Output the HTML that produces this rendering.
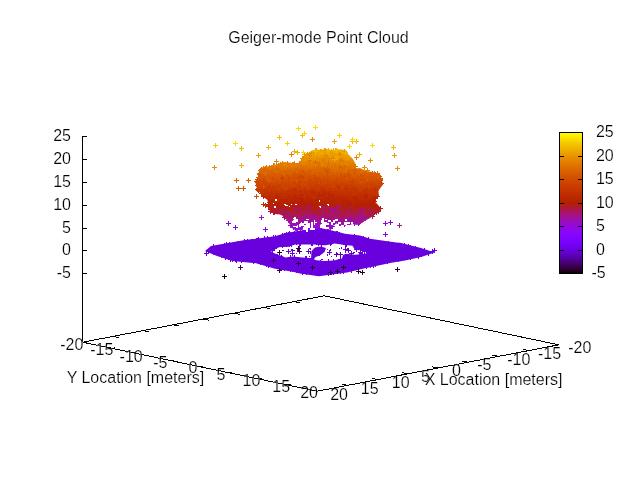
<!DOCTYPE html><html><head><meta charset="utf-8"><style>html,body{margin:0;padding:0;background:#fff;overflow:hidden}svg{display:block;will-change:transform}text{font-family:"Liberation Sans",Arial,sans-serif;font-size:16px;fill:#000;stroke:#fff;stroke-width:0.2px}</style></head><body>
<svg width="640" height="480" viewBox="0 0 640 480">
<rect width="640" height="480" fill="#fff"/>
<defs><linearGradient id="cb" x1="0" y1="0" x2="0" y2="1"><stop offset="0.0000" stop-color="#ffff00"/><stop offset="0.0167" stop-color="#fdf200"/><stop offset="0.0333" stop-color="#fbe600"/><stop offset="0.0500" stop-color="#f9db00"/><stop offset="0.0667" stop-color="#f6cf00"/><stop offset="0.0833" stop-color="#f4c400"/><stop offset="0.1000" stop-color="#f2ba00"/><stop offset="0.1167" stop-color="#f0b000"/><stop offset="0.1333" stop-color="#eda600"/><stop offset="0.1500" stop-color="#eb9d00"/><stop offset="0.1667" stop-color="#e99400"/><stop offset="0.1833" stop-color="#e68b00"/><stop offset="0.2000" stop-color="#e48300"/><stop offset="0.2167" stop-color="#e27b00"/><stop offset="0.2333" stop-color="#df7300"/><stop offset="0.2500" stop-color="#dd6c00"/><stop offset="0.2667" stop-color="#da6500"/><stop offset="0.2833" stop-color="#d85e00"/><stop offset="0.3000" stop-color="#d55700"/><stop offset="0.3167" stop-color="#d35100"/><stop offset="0.3333" stop-color="#d04c00"/><stop offset="0.3500" stop-color="#ce4600"/><stop offset="0.3667" stop-color="#cb4100"/><stop offset="0.3833" stop-color="#c83c00"/><stop offset="0.4000" stop-color="#c63700"/><stop offset="0.4167" stop-color="#c33300"/><stop offset="0.4333" stop-color="#c02e00"/><stop offset="0.4500" stop-color="#bd2a00"/><stop offset="0.4667" stop-color="#ba2700"/><stop offset="0.4833" stop-color="#b72300"/><stop offset="0.5000" stop-color="#b42000"/><stop offset="0.5167" stop-color="#b11d1b"/><stop offset="0.5333" stop-color="#ae1a35"/><stop offset="0.5500" stop-color="#ab174f"/><stop offset="0.5667" stop-color="#a81568"/><stop offset="0.5833" stop-color="#a5127f"/><stop offset="0.6000" stop-color="#a11096"/><stop offset="0.6167" stop-color="#9e0eab"/><stop offset="0.6333" stop-color="#9a0dbe"/><stop offset="0.6500" stop-color="#970bce"/><stop offset="0.6667" stop-color="#9309dd"/><stop offset="0.6833" stop-color="#8f08e9"/><stop offset="0.7000" stop-color="#8c07f3"/><stop offset="0.7167" stop-color="#8806f9"/><stop offset="0.7333" stop-color="#8405fe"/><stop offset="0.7500" stop-color="#8004ff"/><stop offset="0.7667" stop-color="#7b03fe"/><stop offset="0.7833" stop-color="#7703f9"/><stop offset="0.8000" stop-color="#7202f3"/><stop offset="0.8167" stop-color="#6d02e9"/><stop offset="0.8333" stop-color="#6801dd"/><stop offset="0.8500" stop-color="#6301ce"/><stop offset="0.8667" stop-color="#5d01be"/><stop offset="0.8833" stop-color="#5700ab"/><stop offset="0.9000" stop-color="#510096"/><stop offset="0.9167" stop-color="#4a007f"/><stop offset="0.9333" stop-color="#420068"/><stop offset="0.9500" stop-color="#39004f"/><stop offset="0.9667" stop-color="#2f0035"/><stop offset="0.9833" stop-color="#21001b"/><stop offset="1.0000" stop-color="#000000"/></linearGradient>
<linearGradient id="cg" gradientUnits="userSpaceOnUse" x1="0" y1="146" x2="0" y2="236"><stop offset="0.000" stop-color="#f5c800"/><stop offset="0.022" stop-color="#f3be00"/><stop offset="0.044" stop-color="#f1b500"/><stop offset="0.067" stop-color="#efac00"/><stop offset="0.089" stop-color="#eda400"/><stop offset="0.111" stop-color="#eb9c00"/><stop offset="0.133" stop-color="#e99400"/><stop offset="0.156" stop-color="#e78c00"/><stop offset="0.178" stop-color="#e58500"/><stop offset="0.200" stop-color="#e37e00"/><stop offset="0.222" stop-color="#e17700"/><stop offset="0.244" stop-color="#de7000"/><stop offset="0.267" stop-color="#dc6a00"/><stop offset="0.289" stop-color="#da6400"/><stop offset="0.311" stop-color="#d85e00"/><stop offset="0.333" stop-color="#d65800"/><stop offset="0.356" stop-color="#d35300"/><stop offset="0.378" stop-color="#d14e00"/><stop offset="0.400" stop-color="#cf4900"/><stop offset="0.422" stop-color="#cd4400"/><stop offset="0.444" stop-color="#ca4000"/><stop offset="0.467" stop-color="#c83b00"/><stop offset="0.489" stop-color="#c63700"/><stop offset="0.511" stop-color="#c33300"/><stop offset="0.533" stop-color="#c12f00"/><stop offset="0.556" stop-color="#be2c00"/><stop offset="0.578" stop-color="#bc2800"/><stop offset="0.600" stop-color="#b92500"/><stop offset="0.622" stop-color="#b72300"/><stop offset="0.644" stop-color="#b52100"/><stop offset="0.667" stop-color="#b41f06"/><stop offset="0.689" stop-color="#b21e13"/><stop offset="0.711" stop-color="#b11c20"/><stop offset="0.733" stop-color="#ae1a33"/><stop offset="0.756" stop-color="#ac1846"/><stop offset="0.778" stop-color="#aa165b"/><stop offset="0.800" stop-color="#a61472"/><stop offset="0.822" stop-color="#a31289"/><stop offset="0.844" stop-color="#a0109c"/><stop offset="0.867" stop-color="#9d0eae"/><stop offset="0.889" stop-color="#9a0cbf"/><stop offset="0.911" stop-color="#970bcf"/><stop offset="0.933" stop-color="#9309dd"/><stop offset="0.956" stop-color="#8e08ec"/><stop offset="0.978" stop-color="#8906f7"/><stop offset="1.000" stop-color="#8405fe"/></linearGradient>
</defs>
<polygon fill="#6801dd" points="205.0,251.0 211.0,246.0 245.0,240.0 275.0,236.3 285.6,233.0 301.0,230.6 312.5,228.1 320.0,228.0 330.0,230.0 345.0,233.7 360.0,235.5 370.0,238.7 396.0,242.5 400.0,242.7 421.0,248.0 434.6,252.6 421.0,257.0 405.0,260.5 390.0,263.0 375.0,266.3 365.0,268.3 347.0,272.5 318.7,276.2 300.0,273.5 294.0,272.0 275.0,268.7 256.0,263.3 232.5,261.0 217.0,256.0 205.0,251.0"/>
<path fill="none" stroke="#6801dd" d="M204 253.5h5M206.5 251v5M206 251.5h5M208.5 249v5M208 249.5h5M210.5 247v5M211 246.5h5M213.5 244v5M218 247.5h5M220.5 245v5M222 245.5h5M224.5 243v5M224 244.5h5M226.5 242v5M227 244.5h5M229.5 242v5M235 243.5h5M237.5 241v5M238 243.5h5M240.5 241v5M242 241.5h5M244.5 239v5M245 241.5h5M247.5 239v5M249 241.5h5M251.5 239v5M250 241.5h5M252.5 239v5M254 240.5h5M256.5 238v5M255 240.5h5M257.5 238v5M256 239.5h5M258.5 237v5M262 238.5h5M264.5 236v5M265 238.5h5M267.5 236v5M268 239.5h5M270.5 237v5M271 237.5h5M273.5 235v5M273 237.5h5M275.5 235v5M280 235.5h5M282.5 233v5M282 235.5h5M284.5 233v5M284 234.5h5M286.5 232v5M286 234.5h5M288.5 232v5M287 233.5h5M289.5 231v5M292 233.5h5M294.5 231v5M295 233.5h5M297.5 231v5M301 232.5h5M303.5 230v5M305 231.5h5M307.5 229v5M311 230.5h5M313.5 228v5M314 229.5h5M316.5 227v5M319 229.5h5M321.5 227v5M325 231.5h5M327.5 229v5M327 232.5h5M329.5 230v5M334 233.5h5M336.5 231v5M335 233.5h5M337.5 231v5M337 234.5h5M339.5 232v5M342 236.5h5M344.5 234v5M352 236.5h5M354.5 234v5M361 238.5h5M363.5 236v5M366 239.5h5M368.5 237v5M382 243.5h5M384.5 241v5M386 243.5h5M388.5 241v5M391 244.5h5M393.5 242v5M394 245.5h5M396.5 243v5M399 245.5h5M401.5 243v5M402 245.5h5M404.5 243v5M406 246.5h5M408.5 244v5M408 247.5h5M410.5 245v5M413 248.5h5M415.5 246v5M417 250.5h5M419.5 248v5M422 250.5h5M424.5 248v5M426 253.5h5M428.5 251v5M432 250.5h5M434.5 248v5M430 251.5h5M432.5 249v5M421 253.5h5M423.5 251v5M419 254.5h5M421.5 252v5M416 256.5h5M418.5 254v5M411 255.5h5M413.5 253v5M408 257.5h5M410.5 255v5M407 256.5h5M409.5 254v5M404 257.5h5M406.5 255v5M399 258.5h5M401.5 256v5M396 259.5h5M398.5 257v5M387 260.5h5M389.5 258v5M385 261.5h5M387.5 259v5M382 261.5h5M384.5 259v5M373 264.5h5M375.5 262v5M371 265.5h5M373.5 263v5M368 265.5h5M370.5 263v5M364 266.5h5M366.5 264v5M358 266.5h5M360.5 264v5M349 270.5h5M351.5 268v5M341 271.5h5M343.5 269v5M338 271.5h5M340.5 269v5M331 272.5h5M333.5 270v5M331 271.5h5M333.5 269v5M329 272.5h5M331.5 270v5M326 273.5h5M328.5 271v5M319 273.5h5M321.5 271v5M317 273.5h5M319.5 271v5M304 272.5h5M306.5 270v5M300 272.5h5M302.5 270v5M294 270.5h5M296.5 268v5M290 269.5h5M292.5 267v5M288 269.5h5M290.5 267v5M286 268.5h5M288.5 266v5M282 268.5h5M284.5 266v5M279 267.5h5M281.5 265v5M278 268.5h5M280.5 266v5M275 266.5h5M277.5 264v5M269 264.5h5M271.5 262v5M266 265.5h5M268.5 263v5M264 264.5h5M266.5 262v5M263 263.5h5M265.5 261v5M258 262.5h5M260.5 260v5M256 261.5h5M258.5 259v5M251 261.5h5M253.5 259v5M239 260.5h5M241.5 258v5M234 260.5h5M236.5 258v5M233 259.5h5M235.5 257v5M230 259.5h5M232.5 257v5M228 259.5h5M230.5 257v5M227 257.5h5M229.5 255v5M225 256.5h5M227.5 254v5M223 257.5h5M225.5 255v5M219 255.5h5M221.5 253v5M213 252.5h5M215.5 250v5M211 252.5h5M213.5 250v5M207 250.5h5M209.5 248v5"/>
<polygon fill="#fff" points="271.0,251.4 279.0,247.2 288.4,246.7 295.0,244.4 307.0,244.4 315.0,244.4 321.0,245.3 326.0,245.3 334.7,243.4 343.0,244.8 352.5,245.8 355.0,250.0 361.0,250.3 367.0,251.2 366.0,253.6 360.0,254.2 355.0,254.7 346.0,253.8 343.0,255.0 342.0,258.4 333.8,260.5 324.4,261.0 316.5,260.3 310.0,258.0 302.5,257.5 293.0,256.5 285.6,257.5 274.4,253.3"/>
<path fill="#6801dd" d="M362 251h1v1h-1zM308 250h1v1h-1zM291 249h2v2h-2zM310 249h1v1h-1zM359 253h1v2h-1zM347 248h1v2h-1zM361 253h1v2h-1zM327 249h1v1h-1zM309 256h1v1h-1zM299 244h1v2h-1zM299 246h1v2h-1zM320 251h1v2h-1zM282 250h2v1h-2zM293 250h2v1h-2zM297 249h2v2h-2zM310 252h1v2h-1zM313 254h2v2h-2zM353 252h2v1h-2zM312 251h1v2h-1zM309 248h2v1h-2zM317 247h1v2h-1zM339 248h1v1h-1zM327 254h1v2h-1zM312 251h1v1h-1zM321 259h2v1h-2zM294 255h1v2h-1zM311 245h1v1h-1zM313 255h1v2h-1zM296 253h1v1h-1zM345 252h1v1h-1zM341 247h1v2h-1zM330 249h1v2h-1zM336 253h2v1h-2zM331 256h1v1h-1zM319 254h1v2h-1zM297 250h2v1h-2zM280 252h1v1h-1zM317 249h1v1h-1zM318 245h1v1h-1zM313 257h1v1h-1z"/>
<polygon fill="#6801dd" points="311.0,259.0 311.5,251.0 315.0,247.5 321.0,246.5 326.0,248.0 324.5,252.0 320.0,255.5 315.5,257.0 313.5,260.0"/>
<path fill="none" stroke="#6801dd" d="M267 250.5h5M269.5 248v5M270 250.5h5M272.5 248v5M272 248.5h5M274.5 246v5M276 244.5h5M278.5 242v5M280 245.5h5M282.5 243v5M284 244.5h5M286.5 242v5M287 244.5h5M289.5 242v5M289 244.5h5M291.5 242v5M294 242.5h5M296.5 240v5M298 243.5h5M300.5 241v5M309 242.5h5M311.5 240v5M310 243.5h5M312.5 241v5M314 242.5h5M316.5 240v5M316 243.5h5M318.5 241v5M319 244.5h5M321.5 242v5M328 243.5h5M330.5 241v5M329 242.5h5M331.5 240v5M343 244.5h5M345.5 242v5M344 244.5h5M346.5 242v5M352 244.5h5M354.5 242v5M354 249.5h5M356.5 247v5M360 250.5h5M362.5 248v5M366 252.5h5M368.5 250v5M360 255.5h5M362.5 253v5M338 259.5h5M340.5 257v5M331 261.5h5M333.5 259v5M328 263.5h5M330.5 261v5M326 261.5h5M328.5 259v5M318 262.5h5M320.5 260v5M310 260.5h5M312.5 258v5M308 260.5h5M310.5 258v5M304 258.5h5M306.5 256v5M303 258.5h5M305.5 256v5M295 259.5h5M297.5 257v5M291 259.5h5M293.5 257v5M288 257.5h5M290.5 255v5M280 258.5h5M282.5 256v5M279 257.5h5M281.5 255v5M275 256.5h5M277.5 254v5M274 256.5h5M276.5 254v5"/>
<polygon fill="url(#cg)" points="256.0,186.0 255.5,181.0 258.0,177.0 259.0,170.0 263.0,167.0 270.0,166.0 275.0,165.0 280.0,163.0 283.0,162.0 290.0,162.5 296.0,164.0 300.0,162.0 302.0,158.0 304.0,155.0 308.5,152.5 312.5,150.3 316.0,149.5 320.0,149.8 327.0,149.0 332.0,150.0 338.0,149.3 343.0,149.6 346.5,152.2 349.5,155.5 353.0,159.0 355.5,164.0 356.0,168.5 360.0,168.0 365.0,170.5 372.0,172.0 378.5,173.5 381.0,177.0 382.0,181.0 383.0,184.5 380.0,188.5 378.5,191.0 378.8,195.0 374.0,200.6 378.0,205.0 381.5,209.0 377.8,212.8 374.0,215.0 369.4,218.4 365.6,220.3 362.0,223.0 357.0,225.0 352.5,224.0 347.0,226.0 342.0,225.0 337.5,223.0 333.8,225.0 331.0,229.5 327.0,229.0 326.0,222.0 321.0,222.0 320.0,228.5 312.0,228.5 300.0,230.0 295.0,230.0 291.0,227.5 289.0,223.0 286.0,219.0 283.0,216.0 280.0,214.5 275.0,214.0 270.0,212.0 268.5,206.0 267.5,200.0 262.0,196.0 258.0,190.0"/>
<path fill="none" stroke="#d86000" d="M294 170.5h5M296.5 168v5M332 172.5h5M334.5 170v5M337 173.5h5M339.5 171v5M284 173.5h5M286.5 171v5M281 173.5h5M283.5 171v5M264 172.5h5M266.5 170v5M295 169.5h5M297.5 167v5M340 167.5h5M342.5 165v5M377 176.5h5M379.5 174v5M344 175.5h5M346.5 173v5M300 170.5h5M302.5 168v5M367 174.5h5M369.5 172v5M347 174.5h5M349.5 172v5M316 167.5h5M318.5 165v5M258 177.5h5M260.5 175v5M270 173.5h5M272.5 171v5M273 175.5h5M275.5 173v5M347 172.5h5M349.5 170v5M313 174.5h5M315.5 172v5M289 172.5h5M291.5 170v5M333 171.5h5M335.5 169v5M257 174.5h5M259.5 172v5M291 173.5h5M293.5 171v5M257 173.5h5M259.5 171v5M263 168.5h5M265.5 166v5M375 173.5h5M377.5 171v5M376 175.5h5M378.5 173v5"/>
<path fill="none" stroke="#c63600" d="M287 192.5h5M289.5 190v5M289 193.5h5M291.5 191v5M255 189.5h5M257.5 187v5M295 189.5h5M297.5 187v5M304 187.5h5M306.5 185v5M328 186.5h5M330.5 184v5M351 187.5h5M353.5 185v5M285 190.5h5M287.5 188v5M260 193.5h5M262.5 191v5M341 185.5h5M343.5 183v5M353 188.5h5M355.5 186v5M339 185.5h5M341.5 183v5M328 193.5h5M330.5 191v5M324 186.5h5M326.5 184v5M374 195.5h5M376.5 193v5M261 191.5h5M263.5 189v5M270 188.5h5M272.5 186v5M350 191.5h5M352.5 189v5M334 186.5h5M336.5 184v5M342 190.5h5M344.5 188v5M321 187.5h5M323.5 185v5M350 193.5h5M352.5 191v5M343 185.5h5M345.5 183v5M297 184.5h5M299.5 182v5M366 193.5h5M368.5 191v5M334 186.5h5M336.5 184v5M349 189.5h5M351.5 187v5M259 193.5h5M261.5 191v5"/>
<path fill="none" stroke="#a8185a" d="M272 211.5h5M274.5 209v5M299 212.5h5M301.5 210v5M344 214.5h5M346.5 212v5M354 215.5h5M356.5 213v5"/>
<path fill="none" stroke="#a81854" d="M361 215.5h5M363.5 213v5M319 210.5h5M321.5 208v5M283 216.5h5M285.5 214v5M317 219.5h5M319.5 217v5M329 212.5h5M331.5 210v5M360 211.5h5M362.5 209v5M303 211.5h5M305.5 209v5M354 219.5h5M356.5 217v5"/>
<path fill="none" stroke="#de6600" d="M264 170.5h5M266.5 168v5M348 169.5h5M350.5 167v5M262 170.5h5M264.5 168v5"/>
<path fill="none" stroke="#c63c00" d="M314 186.5h5M316.5 184v5M298 189.5h5M300.5 187v5M278 186.5h5M280.5 184v5M270 190.5h5M272.5 188v5M322 188.5h5M324.5 186v5M298 183.5h5M300.5 181v5M308 185.5h5M310.5 183v5M327 187.5h5M329.5 185v5M269 191.5h5M271.5 189v5M361 186.5h5M363.5 184v5M315 188.5h5M317.5 186v5M256 190.5h5M258.5 188v5M334 188.5h5M336.5 186v5M283 187.5h5M285.5 185v5M348 186.5h5M350.5 184v5M358 189.5h5M360.5 187v5M298 187.5h5M300.5 185v5M369 187.5h5M371.5 185v5M298 187.5h5M300.5 185v5M379 183.5h5M381.5 181v5"/>
<path fill="none" stroke="#ba2a00" d="M375 196.5h5M377.5 194v5M358 198.5h5M360.5 196v5M346 197.5h5M348.5 195v5M309 191.5h5M311.5 189v5M273 199.5h5M275.5 197v5M299 200.5h5M301.5 198v5M329 197.5h5M331.5 195v5M373 198.5h5M375.5 196v5M321 192.5h5M323.5 190v5M331 196.5h5M333.5 194v5M303 195.5h5M305.5 193v5M261 196.5h5M263.5 194v5M361 197.5h5M363.5 195v5M287 197.5h5M289.5 195v5M321 196.5h5M323.5 194v5M270 196.5h5M272.5 194v5M349 198.5h5M351.5 196v5"/>
<path fill="none" stroke="#d24800" d="M354 182.5h5M356.5 180v5M305 184.5h5M307.5 182v5M292 181.5h5M294.5 179v5M299 176.5h5M301.5 174v5M258 181.5h5M260.5 179v5M374 181.5h5M376.5 179v5M338 176.5h5M340.5 174v5M271 180.5h5M273.5 178v5M342 176.5h5M344.5 174v5M286 178.5h5M288.5 176v5M290 185.5h5M292.5 183v5M315 181.5h5M317.5 179v5M298 177.5h5M300.5 175v5M321 182.5h5M323.5 180v5"/>
<path fill="none" stroke="#c02a00" d="M322 191.5h5M324.5 189v5M292 189.5h5M294.5 187v5M316 194.5h5M318.5 192v5M362 199.5h5M364.5 197v5M348 197.5h5M350.5 195v5M269 194.5h5M271.5 192v5M286 196.5h5M288.5 194v5M298 191.5h5M300.5 189v5M325 193.5h5M327.5 191v5M290 194.5h5M292.5 192v5M366 196.5h5M368.5 194v5M303 192.5h5M305.5 190v5M351 198.5h5M353.5 196v5M350 201.5h5M352.5 199v5M341 195.5h5M343.5 193v5M306 193.5h5M308.5 191v5M304 194.5h5M306.5 192v5"/>
<path fill="none" stroke="#d25400" d="M293 174.5h5M295.5 172v5M291 176.5h5M293.5 174v5M346 175.5h5M348.5 173v5M261 182.5h5M263.5 180v5M280 177.5h5M282.5 175v5M372 178.5h5M374.5 176v5M290 176.5h5M292.5 174v5M303 178.5h5M305.5 176v5M269 179.5h5M271.5 177v5M289 180.5h5M291.5 178v5M378 180.5h5M380.5 178v5M303 178.5h5M305.5 176v5M313 178.5h5M315.5 176v5M261 186.5h5M263.5 184v5M256 177.5h5M258.5 175v5M300 173.5h5M302.5 171v5M279 177.5h5M281.5 175v5M320 177.5h5M322.5 175v5M359 182.5h5M361.5 180v5M320 176.5h5M322.5 174v5M291 175.5h5M293.5 173v5M301 172.5h5M303.5 170v5M332 178.5h5M334.5 176v5M284 175.5h5M286.5 173v5M333 180.5h5M335.5 178v5M378 179.5h5M380.5 177v5M324 176.5h5M326.5 174v5M339 176.5h5M341.5 174v5M255 181.5h5M257.5 179v5M258 174.5h5M260.5 172v5M378 178.5h5M380.5 176v5"/>
<path fill="none" stroke="#de6c00" d="M263 173.5h5M265.5 171v5M333 165.5h5M335.5 163v5M317 163.5h5M319.5 161v5M299 166.5h5M301.5 164v5M274 165.5h5M276.5 163v5M303 168.5h5M305.5 166v5M343 170.5h5M345.5 168v5M303 168.5h5M305.5 166v5M283 169.5h5M285.5 167v5M333 171.5h5M335.5 169v5M352 168.5h5M354.5 166v5M315 167.5h5M317.5 165v5M342 167.5h5M344.5 165v5M315 167.5h5M317.5 165v5M258 170.5h5M260.5 168v5M295 171.5h5M297.5 169v5M262 170.5h5M264.5 168v5M259 169.5h5M261.5 167v5M372 173.5h5M374.5 171v5"/>
<path fill="none" stroke="#b41e0c" d="M299 204.5h5M301.5 202v5M333 204.5h5M335.5 202v5M300 202.5h5M302.5 200v5M273 204.5h5M275.5 202v5M289 208.5h5M291.5 206v5M364 206.5h5M366.5 204v5M297 205.5h5M299.5 203v5M329 209.5h5M331.5 207v5M341 204.5h5M343.5 202v5M302 206.5h5M304.5 204v5M330 204.5h5M332.5 202v5M284 208.5h5M286.5 206v5M378 208.5h5M380.5 206v5"/>
<path fill="none" stroke="#d85a00" d="M266 180.5h5M268.5 178v5M267 179.5h5M269.5 177v5M272 174.5h5M274.5 172v5M303 173.5h5M305.5 171v5M298 171.5h5M300.5 169v5M265 176.5h5M267.5 174v5M374 175.5h5M376.5 173v5M264 178.5h5M266.5 176v5M318 172.5h5M320.5 170v5M300 174.5h5M302.5 172v5M268 174.5h5M270.5 172v5M326 169.5h5M328.5 167v5M341 178.5h5M343.5 176v5M346 170.5h5M348.5 168v5M352 170.5h5M354.5 168v5M353 175.5h5M355.5 173v5M364 174.5h5M366.5 172v5M353 175.5h5M355.5 173v5M275 177.5h5M277.5 175v5M282 178.5h5M284.5 176v5M319 174.5h5M321.5 172v5M283 172.5h5M285.5 170v5M365 179.5h5M367.5 177v5M277 180.5h5M279.5 178v5M307 174.5h5M309.5 172v5M370 173.5h5M372.5 171v5M307 171.5h5M309.5 169v5M375 174.5h5M377.5 172v5M352 175.5h5M354.5 173v5M277 174.5h5M279.5 172v5M257 177.5h5M259.5 175v5M373 174.5h5M375.5 172v5"/>
<path fill="none" stroke="#b42400" d="M359 201.5h5M361.5 199v5M318 201.5h5M320.5 199v5M337 198.5h5M339.5 196v5M297 201.5h5M299.5 199v5M371 203.5h5M373.5 201v5M281 204.5h5M283.5 202v5M286 203.5h5M288.5 201v5M288 203.5h5M290.5 201v5M289 201.5h5M291.5 199v5M279 199.5h5M281.5 197v5M316 204.5h5M318.5 202v5M328 204.5h5M330.5 202v5M359 204.5h5M361.5 202v5M270 203.5h5M272.5 201v5M317 201.5h5M319.5 199v5M277 201.5h5M279.5 199v5M304 201.5h5M306.5 199v5M285 206.5h5M287.5 204v5M326 198.5h5M328.5 196v5M281 199.5h5M283.5 197v5M332 202.5h5M334.5 200v5M327 200.5h5M329.5 198v5M269 205.5h5M271.5 203v5M302 201.5h5M304.5 199v5M284 201.5h5M286.5 199v5M370 202.5h5M372.5 200v5M267 205.5h5M269.5 203v5M266 204.5h5M268.5 202v5"/>
<path fill="none" stroke="#d24e00" d="M255 179.5h5M257.5 177v5M324 170.5h5M326.5 168v5M346 174.5h5M348.5 172v5M341 178.5h5M343.5 176v5M292 178.5h5M294.5 176v5M296 174.5h5M298.5 172v5M347 178.5h5M349.5 176v5M307 176.5h5M309.5 174v5M254 181.5h5M256.5 179v5M363 181.5h5M365.5 179v5M359 175.5h5M361.5 173v5M280 182.5h5M282.5 180v5M308 179.5h5M310.5 177v5M325 177.5h5M327.5 175v5M293 177.5h5M295.5 175v5M312 175.5h5M314.5 173v5M317 183.5h5M319.5 181v5M346 174.5h5M348.5 172v5M262 180.5h5M264.5 178v5M330 186.5h5M332.5 184v5M359 179.5h5M361.5 177v5M298 178.5h5M300.5 176v5M306 180.5h5M308.5 178v5M272 180.5h5M274.5 178v5M271 181.5h5M273.5 179v5M259 180.5h5M261.5 178v5M360 179.5h5M362.5 177v5M256 180.5h5M258.5 178v5M378 180.5h5M380.5 178v5"/>
<path fill="none" stroke="#cc3c00" d="M325 186.5h5M327.5 184v5M308 184.5h5M310.5 182v5M297 183.5h5M299.5 181v5M282 188.5h5M284.5 186v5M355 190.5h5M357.5 188v5M280 178.5h5M282.5 176v5M281 185.5h5M283.5 183v5M295 188.5h5M297.5 186v5M369 185.5h5M371.5 183v5M256 188.5h5M258.5 186v5M350 181.5h5M352.5 179v5M342 184.5h5M344.5 182v5M318 182.5h5M320.5 180v5M365 185.5h5M367.5 183v5M317 186.5h5M319.5 184v5M280 185.5h5M282.5 183v5M330 187.5h5M332.5 185v5M309 186.5h5M311.5 184v5"/>
<path fill="none" stroke="#b41e00" d="M303 203.5h5M305.5 201v5M339 206.5h5M341.5 204v5M289 206.5h5M291.5 204v5M354 208.5h5M356.5 206v5M290 205.5h5M292.5 203v5M304 202.5h5M306.5 200v5M301 207.5h5M303.5 205v5M346 203.5h5M348.5 201v5M314 200.5h5M316.5 198v5M372 201.5h5M374.5 199v5M304 203.5h5M306.5 201v5M308 201.5h5M310.5 199v5M301 202.5h5M303.5 200v5M338 205.5h5M340.5 203v5M299 198.5h5M301.5 196v5M300 201.5h5M302.5 199v5"/>
<path fill="none" stroke="#c03000" d="M373 194.5h5M375.5 192v5M357 197.5h5M359.5 195v5M302 196.5h5M304.5 194v5M320 191.5h5M322.5 189v5M269 192.5h5M271.5 190v5M279 200.5h5M281.5 198v5M353 190.5h5M355.5 188v5M281 195.5h5M283.5 193v5M332 191.5h5M334.5 189v5M272 196.5h5M274.5 194v5M367 194.5h5M369.5 192v5M348 192.5h5M350.5 190v5M341 193.5h5M343.5 191v5M293 190.5h5M295.5 188v5M283 195.5h5M285.5 193v5M268 186.5h5M270.5 184v5M291 190.5h5M293.5 188v5M338 193.5h5M340.5 191v5M328 191.5h5M330.5 189v5M325 193.5h5M327.5 191v5M331 193.5h5M333.5 191v5M373 189.5h5M375.5 187v5M286 191.5h5M288.5 189v5M312 197.5h5M314.5 195v5M366 196.5h5M368.5 194v5M297 194.5h5M299.5 192v5M287 195.5h5M289.5 193v5M272 193.5h5M274.5 191v5M303 196.5h5M305.5 194v5M288 194.5h5M290.5 192v5M304 193.5h5M306.5 191v5M363 190.5h5M365.5 188v5M344 188.5h5M346.5 186v5M302 192.5h5M304.5 190v5M272 195.5h5M274.5 193v5M279 198.5h5M281.5 196v5M318 190.5h5M320.5 188v5M366 188.5h5M368.5 186v5M336 187.5h5M338.5 185v5M271 193.5h5M273.5 191v5M285 193.5h5M287.5 191v5M264 194.5h5M266.5 192v5M351 196.5h5M353.5 194v5M363 190.5h5M365.5 188v5M310 191.5h5M312.5 189v5M321 195.5h5M323.5 193v5M262 195.5h5M264.5 193v5"/>
<path fill="none" stroke="#cc4800" d="M276 181.5h5M278.5 179v5M269 185.5h5M271.5 183v5M366 186.5h5M368.5 184v5M305 182.5h5M307.5 180v5M341 182.5h5M343.5 180v5M281 182.5h5M283.5 180v5M334 179.5h5M336.5 177v5M338 182.5h5M340.5 180v5M305 186.5h5M307.5 184v5M300 183.5h5M302.5 181v5M347 182.5h5M349.5 180v5M283 185.5h5M285.5 183v5M343 182.5h5M345.5 180v5M296 177.5h5M298.5 175v5M306 181.5h5M308.5 179v5M300 184.5h5M302.5 182v5M255 182.5h5M257.5 180v5M281 185.5h5M283.5 183v5M325 180.5h5M327.5 178v5M321 179.5h5M323.5 177v5M258 186.5h5M260.5 184v5M296 183.5h5M298.5 181v5M257 183.5h5M259.5 181v5M360 179.5h5M362.5 177v5M313 178.5h5M315.5 176v5M292 185.5h5M294.5 183v5M316 179.5h5M318.5 177v5"/>
<path fill="none" stroke="#e47e00" d="M264 167.5h5M266.5 165v5M335 166.5h5M337.5 164v5M331 158.5h5M333.5 156v5M325 158.5h5M327.5 156v5M284 166.5h5M286.5 164v5M340 161.5h5M342.5 159v5M339 161.5h5M341.5 159v5M305 161.5h5M307.5 159v5M338 161.5h5M340.5 159v5M280 163.5h5M282.5 161v5M290 164.5h5M292.5 162v5M351 166.5h5M353.5 164v5"/>
<path fill="none" stroke="#ea9000" d="M305 154.5h5M307.5 152v5M302 154.5h5M304.5 152v5M300 158.5h5M302.5 156v5M309 155.5h5M311.5 153v5M324 157.5h5M326.5 155v5"/>
<path fill="none" stroke="#ae1842" d="M351 215.5h5M353.5 213v5M273 211.5h5M275.5 209v5M311 209.5h5M313.5 207v5M359 211.5h5M361.5 209v5M304 219.5h5M306.5 217v5M292 210.5h5M294.5 208v5M326 209.5h5M328.5 207v5M298 210.5h5M300.5 208v5M268 211.5h5M270.5 209v5"/>
<path fill="none" stroke="#b41e18" d="M304 205.5h5M306.5 203v5M327 205.5h5M329.5 203v5M329 206.5h5M331.5 204v5M373 211.5h5M375.5 209v5M365 207.5h5M367.5 205v5M347 206.5h5M349.5 204v5M271 206.5h5M273.5 204v5M275 208.5h5M277.5 206v5M292 211.5h5M294.5 209v5M354 208.5h5M356.5 206v5M300 206.5h5M302.5 204v5M290 211.5h5M292.5 209v5M282 207.5h5M284.5 205v5"/>
<path fill="none" stroke="#b41e1e" d="M271 206.5h5M273.5 204v5M372 209.5h5M374.5 207v5M354 212.5h5M356.5 210v5M366 210.5h5M368.5 208v5M345 211.5h5M347.5 209v5"/>
<path fill="none" stroke="#a81866" d="M344 216.5h5M346.5 214v5M307 214.5h5M309.5 212v5M302 212.5h5M304.5 210v5M346 211.5h5M348.5 209v5M293 215.5h5M295.5 213v5M302 212.5h5M304.5 210v5M292 217.5h5M294.5 215v5M354 215.5h5M356.5 213v5M316 219.5h5M318.5 217v5M333 210.5h5M335.5 208v5M349 208.5h5M351.5 206v5"/>
<path fill="none" stroke="#9c0ca8" d="M295 224.5h5M297.5 222v5M346 221.5h5M348.5 219v5M290 218.5h5M292.5 216v5M317 222.5h5M319.5 220v5M321 216.5h5M323.5 214v5M332 222.5h5M334.5 220v5M326 227.5h5M328.5 225v5M321 220.5h5M323.5 218v5"/>
<path fill="none" stroke="#ba2400" d="M322 194.5h5M324.5 192v5M324 201.5h5M326.5 199v5M326 193.5h5M328.5 191v5M287 196.5h5M289.5 194v5M363 196.5h5M365.5 194v5M299 195.5h5M301.5 193v5M316 201.5h5M318.5 199v5M337 199.5h5M339.5 197v5M317 194.5h5M319.5 192v5M330 195.5h5M332.5 193v5M311 192.5h5M313.5 190v5M339 198.5h5M341.5 196v5M359 201.5h5M361.5 199v5M274 201.5h5M276.5 199v5M305 198.5h5M307.5 196v5M274 196.5h5M276.5 194v5M351 196.5h5M353.5 194v5M319 195.5h5M321.5 193v5M351 201.5h5M353.5 199v5M315 196.5h5M317.5 194v5M337 203.5h5M339.5 201v5M274 199.5h5M276.5 197v5M367 202.5h5M369.5 200v5M322 196.5h5M324.5 194v5M293 196.5h5M295.5 194v5M355 199.5h5M357.5 197v5M328 196.5h5M330.5 194v5M334 198.5h5M336.5 196v5M279 200.5h5M281.5 198v5M294 198.5h5M296.5 196v5M358 204.5h5M360.5 202v5M305 201.5h5M307.5 199v5M354 197.5h5M356.5 195v5M364 195.5h5M366.5 193v5M373 197.5h5M375.5 195v5M267 202.5h5M269.5 200v5"/>
<path fill="none" stroke="#a2129c" d="M290 221.5h5M292.5 219v5M335 217.5h5M337.5 215v5M337 223.5h5M339.5 221v5M313 217.5h5M315.5 215v5M327 221.5h5M329.5 219v5M356 223.5h5M358.5 221v5M284 213.5h5M286.5 211v5M320 207.5h5M322.5 205v5M334 209.5h5M336.5 207v5"/>
<path fill="none" stroke="#e48a00" d="M323 155.5h5M325.5 153v5M299 161.5h5M301.5 159v5M325 160.5h5M327.5 158v5M282 164.5h5M284.5 162v5M309 153.5h5M311.5 151v5"/>
<path fill="none" stroke="#de7200" d="M326 163.5h5M328.5 161v5M331 168.5h5M333.5 166v5M282 169.5h5M284.5 167v5M278 167.5h5M280.5 165v5M344 169.5h5M346.5 167v5M327 167.5h5M329.5 165v5M353 166.5h5M355.5 164v5M345 168.5h5M347.5 166v5M331 166.5h5M333.5 164v5M307 160.5h5M309.5 158v5M275 171.5h5M277.5 169v5M271 165.5h5M273.5 163v5M261 168.5h5M263.5 166v5M359 171.5h5M361.5 169v5"/>
<path fill="none" stroke="#d86600" d="M319 170.5h5M321.5 168v5M320 168.5h5M322.5 166v5M313 162.5h5M315.5 160v5M282 173.5h5M284.5 171v5M275 169.5h5M277.5 167v5M276 170.5h5M278.5 168v5M263 170.5h5M265.5 168v5M347 169.5h5M349.5 167v5M285 170.5h5M287.5 168v5M321 169.5h5M323.5 167v5M288 172.5h5M290.5 170v5M357 173.5h5M359.5 171v5M343 166.5h5M345.5 164v5M262 169.5h5M264.5 167v5M337 166.5h5M339.5 164v5M294 170.5h5M296.5 168v5M325 168.5h5M327.5 166v5M267 172.5h5M269.5 170v5M310 172.5h5M312.5 170v5M312 169.5h5M314.5 167v5M259 172.5h5M261.5 170v5"/>
<path fill="none" stroke="#f0a800" d="M335 152.5h5M337.5 150v5M321 152.5h5M323.5 150v5M336 153.5h5M338.5 151v5M329 151.5h5M331.5 149v5M334 156.5h5M336.5 154v5M332 159.5h5M334.5 157v5M335 151.5h5M337.5 149v5M333 150.5h5M335.5 148v5M342 152.5h5M344.5 150v5"/>
<path fill="none" stroke="#e47800" d="M339 160.5h5M341.5 158v5M313 165.5h5M315.5 163v5M307 155.5h5M309.5 153v5M322 160.5h5M324.5 158v5M345 163.5h5M347.5 161v5M292 163.5h5M294.5 161v5M285 163.5h5M287.5 161v5M306 163.5h5M308.5 161v5M319 165.5h5M321.5 163v5M267 167.5h5M269.5 165v5M276 165.5h5M278.5 163v5M278 164.5h5M280.5 162v5M291 164.5h5M293.5 162v5M297 163.5h5M299.5 161v5"/>
<path fill="none" stroke="#cc4200" d="M313 182.5h5M315.5 180v5M283 188.5h5M285.5 186v5M280 186.5h5M282.5 184v5M308 180.5h5M310.5 178v5M261 181.5h5M263.5 179v5M325 183.5h5M327.5 181v5M315 182.5h5M317.5 180v5M341 186.5h5M343.5 184v5M293 182.5h5M295.5 180v5M353 184.5h5M355.5 182v5M310 184.5h5M312.5 182v5M285 187.5h5M287.5 185v5M300 177.5h5M302.5 175v5M333 182.5h5M335.5 180v5M361 186.5h5M363.5 184v5M276 189.5h5M278.5 187v5M255 185.5h5M257.5 183v5M263 183.5h5M265.5 181v5M292 184.5h5M294.5 182v5M339 186.5h5M341.5 184v5M255 185.5h5M257.5 183v5M378 184.5h5M380.5 182v5"/>
<path fill="none" stroke="#ae1848" d="M360 218.5h5M362.5 216v5M281 213.5h5M283.5 211v5M340 213.5h5M342.5 211v5"/>
<path fill="none" stroke="#9c0cae" d="M308 222.5h5M310.5 220v5M316 223.5h5M318.5 221v5M347 219.5h5M349.5 217v5"/>
<path fill="none" stroke="#eaa200" d="M329 154.5h5M331.5 152v5M310 154.5h5M312.5 152v5M315 155.5h5M317.5 153v5M313 152.5h5M315.5 150v5M314 150.5h5M316.5 148v5"/>
<path fill="none" stroke="#a21296" d="M338 219.5h5M340.5 217v5M293 226.5h5M295.5 224v5M363 218.5h5M365.5 216v5M308 216.5h5M310.5 214v5M357 222.5h5M359.5 220v5M330 212.5h5M332.5 210v5M285 212.5h5M287.5 210v5"/>
<path fill="none" stroke="#960cd2" d="M325 222.5h5M327.5 220v5M331 222.5h5M333.5 220v5M301 225.5h5M303.5 223v5"/>
<path fill="none" stroke="#ae183c" d="M367 215.5h5M369.5 213v5M285 214.5h5M287.5 212v5M315 210.5h5M317.5 208v5M296 205.5h5M298.5 203v5M367 209.5h5M369.5 207v5M285 210.5h5M287.5 208v5M372 212.5h5M374.5 210v5"/>
<path fill="none" stroke="#ea9c00" d="M328 152.5h5M330.5 150v5M338 154.5h5M340.5 152v5M322 150.5h5M324.5 148v5M342 151.5h5M344.5 149v5M334 154.5h5M336.5 152v5M323 150.5h5M325.5 148v5M346 157.5h5M348.5 155v5"/>
<path fill="none" stroke="#9c0cba" d="M291 223.5h5M293.5 221v5M298 227.5h5M300.5 225v5M342 224.5h5M344.5 222v5"/>
<path fill="none" stroke="#d85400" d="M360 177.5h5M362.5 175v5M294 180.5h5M296.5 178v5M304 175.5h5M306.5 173v5M325 172.5h5M327.5 170v5"/>
<path fill="none" stroke="#ea9600" d="M344 159.5h5M346.5 157v5M313 151.5h5M315.5 149v5M302 159.5h5M304.5 157v5M308 157.5h5M310.5 155v5M300 158.5h5M302.5 156v5M304 155.5h5M306.5 153v5M330 153.5h5M332.5 151v5M312 158.5h5M314.5 156v5"/>
<path fill="none" stroke="#9c0cb4" d="M342 224.5h5M344.5 222v5M303 223.5h5M305.5 221v5M338 223.5h5M340.5 221v5M310 216.5h5M312.5 214v5M303 223.5h5M305.5 221v5M291 223.5h5M293.5 221v5M347 222.5h5M349.5 220v5"/>
<path fill="none" stroke="#de7800" d="M344 164.5h5M346.5 162v5M348 166.5h5M350.5 164v5M320 163.5h5M322.5 161v5M278 166.5h5M280.5 164v5M331 164.5h5M333.5 162v5M341 164.5h5M343.5 162v5"/>
<path fill="none" stroke="#a81860" d="M338 213.5h5M340.5 211v5M294 210.5h5M296.5 208v5M284 213.5h5M286.5 211v5M362 211.5h5M364.5 209v5M368 213.5h5M370.5 211v5"/>
<path fill="none" stroke="#b41e12" d="M312 209.5h5M314.5 207v5M266 206.5h5M268.5 204v5M314 207.5h5M316.5 205v5M268 209.5h5M270.5 207v5"/>
<path fill="none" stroke="#a81278" d="M317 217.5h5M319.5 215v5M355 216.5h5M357.5 214v5M364 216.5h5M366.5 214v5M324 208.5h5M326.5 206v5M355 214.5h5M357.5 212v5"/>
<path fill="none" stroke="#a8184e" d="M309 211.5h5M311.5 209v5M290 217.5h5M292.5 215v5M336 211.5h5M338.5 209v5M330 210.5h5M332.5 208v5M339 217.5h5M341.5 215v5M334 214.5h5M336.5 212v5M371 213.5h5M373.5 211v5M272 212.5h5M274.5 210v5"/>
<path fill="none" stroke="#9c0ca2" d="M326 219.5h5M328.5 217v5M326 225.5h5M328.5 223v5M335 221.5h5M337.5 219v5M323 220.5h5M325.5 218v5M297 209.5h5M299.5 207v5M358 208.5h5M360.5 206v5"/>
<path fill="none" stroke="#ae1e24" d="M350 208.5h5M352.5 206v5M359 213.5h5M361.5 211v5M289 204.5h5M291.5 202v5M366 207.5h5M368.5 205v5M376 211.5h5M378.5 209v5M309 210.5h5M311.5 208v5M339 208.5h5M341.5 206v5"/>
<path fill="none" stroke="#9c0cc0" d="M312 224.5h5M314.5 222v5M328 225.5h5M330.5 223v5M297 224.5h5M299.5 222v5M288 225.5h5M290.5 223v5M298 228.5h5M300.5 226v5M294 228.5h5M296.5 226v5"/>
<path fill="none" stroke="#ae182a" d="M294 211.5h5M296.5 209v5M332 209.5h5M334.5 207v5M282 207.5h5M284.5 205v5M349 212.5h5M351.5 210v5M271 212.5h5M273.5 210v5"/>
<path fill="none" stroke="#e48400" d="M272 165.5h5M274.5 163v5M319 159.5h5M321.5 157v5M325 160.5h5M327.5 158v5M340 163.5h5M342.5 161v5M337 154.5h5M339.5 152v5M320 164.5h5M322.5 162v5M344 164.5h5M346.5 162v5M321 159.5h5M323.5 157v5M300 163.5h5M302.5 161v5M301 158.5h5M303.5 156v5"/>
<path fill="none" stroke="#a8127e" d="M325 214.5h5M327.5 212v5M349 215.5h5M351.5 213v5M356 213.5h5M358.5 211v5"/>
<path fill="none" stroke="#a81272" d="M288 216.5h5M290.5 214v5M362 210.5h5M364.5 208v5M331 209.5h5M333.5 207v5M333 220.5h5M335.5 218v5"/>
<path fill="none" stroke="#a8126c" d="M324 216.5h5M326.5 214v5M363 216.5h5M365.5 214v5M355 215.5h5M357.5 213v5M301 219.5h5M303.5 217v5M331 210.5h5M333.5 208v5M330 209.5h5M332.5 207v5"/>
<path fill="none" stroke="#ae1830" d="M293 206.5h5M295.5 204v5M299 210.5h5M301.5 208v5M362 212.5h5M364.5 210v5M359 213.5h5M361.5 211v5M297 206.5h5M299.5 204v5M344 210.5h5M346.5 208v5M332 209.5h5M334.5 207v5M294 207.5h5M296.5 205v5M374 212.5h5M376.5 210v5"/>
<path fill="none" stroke="#b41e24" d="M342 204.5h5M344.5 202v5"/>
<path fill="none" stroke="#a21284" d="M360 216.5h5M362.5 214v5M359 214.5h5M361.5 212v5M357 218.5h5M359.5 216v5M354 216.5h5M356.5 214v5M286 220.5h5M288.5 218v5M282 217.5h5M284.5 215v5M331 211.5h5M333.5 209v5"/>
<path fill="none" stroke="#e49000" d="M315 158.5h5M317.5 156v5M305 159.5h5M307.5 157v5"/>
<path fill="none" stroke="#a8186c" d="M320 214.5h5M322.5 212v5M330 215.5h5M332.5 213v5M361 214.5h5M363.5 212v5"/>
<path fill="none" stroke="#8a06f6" d="M308 226.5h5M310.5 224v5M307 228.5h5M309.5 226v5"/>
<path fill="none" stroke="#f0ae00" d="M319 151.5h5M321.5 149v5M326 150.5h5M328.5 148v5M331 150.5h5M333.5 148v5"/>
<path fill="none" stroke="#a21290" d="M303 217.5h5M305.5 215v5M286 220.5h5M288.5 218v5M354 221.5h5M356.5 219v5M328 208.5h5M330.5 206v5M336 206.5h5M338.5 204v5M361 217.5h5M363.5 215v5M357 217.5h5M359.5 215v5"/>
<path fill="none" stroke="#900ce4" d="M332 222.5h5M334.5 220v5M293 228.5h5M295.5 226v5"/>
<path fill="none" stroke="#a2128a" d="M307 215.5h5M309.5 213v5M359 220.5h5M361.5 218v5M285 217.5h5M287.5 215v5"/>
<path fill="none" stroke="#960cd8" d="M309 226.5h5M311.5 224v5M314 226.5h5M316.5 224v5M296 226.5h5M298.5 224v5M313 226.5h5M315.5 224v5M328 227.5h5M330.5 225v5M316 226.5h5M318.5 224v5"/>
<path fill="none" stroke="#900cde" d="M291 227.5h5M293.5 225v5M316 227.5h5M318.5 225v5M330 226.5h5M332.5 224v5M330 224.5h5M332.5 222v5M301 227.5h5M303.5 225v5M291 227.5h5M293.5 225v5"/>
<path fill="none" stroke="#9c0cc6" d="M329 226.5h5M331.5 224v5M295 224.5h5M297.5 222v5M329 223.5h5M331.5 221v5M317 223.5h5M319.5 221v5M305 227.5h5M307.5 225v5"/>
<path fill="none" stroke="#f0ba00" d="M334 150.5h5M336.5 148v5M313 151.5h5M315.5 149v5"/>
<path fill="none" stroke="#ae1836" d="M374 210.5h5M376.5 208v5M364 211.5h5M366.5 209v5M277 207.5h5M279.5 205v5M348 210.5h5M350.5 208v5"/>
<path fill="none" stroke="#b41e06" d="M374 207.5h5M376.5 205v5M277 205.5h5M279.5 203v5M308 204.5h5M310.5 202v5M340 205.5h5M342.5 203v5M368 203.5h5M370.5 201v5M357 207.5h5M359.5 205v5M370 203.5h5M372.5 201v5M311 204.5h5M313.5 202v5M360 204.5h5M362.5 202v5"/>
<path fill="none" stroke="#f0b400" d="M313 150.5h5M315.5 148v5M343 152.5h5M345.5 150v5"/>
<path fill="none" stroke="#a20c9c" d="M304 220.5h5M306.5 218v5M332 210.5h5M334.5 208v5"/>
<path fill="none" stroke="#960ccc" d="M301 221.5h5M303.5 219v5M326 226.5h5M328.5 224v5M329 222.5h5M331.5 220v5M352 223.5h5M354.5 221v5M299 227.5h5M301.5 225v5"/>
<path fill="none" stroke="#f0a200" d="M335 157.5h5M337.5 155v5M318 151.5h5M320.5 149v5"/>
<path fill="none" stroke="#c03600" d="M353 194.5h5M355.5 192v5"/>
<path fill="none" stroke="#9006ea" d="M298 228.5h5M300.5 226v5"/>
<path fill="none" stroke="#9006e4" d="M295 228.5h5M297.5 226v5"/>
<path fill="none" stroke="#ae1824" d="M282 214.5h5M284.5 212v5"/>
<path fill="none" stroke="#a20ca2" d="M306 207.5h5M308.5 205v5"/>
<path fill="none" stroke="#a2127e" d="M280 211.5h5M282.5 209v5"/>
<path fill="#fff" d="M286 205h2v1h-2zM285 205h1v1h-1zM273 203h1v1h-1zM295 204h2v1h-2zM289 206h1v1h-1zM275 199h2v2h-2zM274 206h2v2h-2zM291 204h1v1h-1zM284 204h2v1h-2z"/>
<path fill="#fff" d="M319 200h1v2h-1zM319 206h1v1h-1zM320 206h1v2h-1zM327 204h1v1h-1zM328 204h1v2h-1z"/>
<path fill="#fff" d="M301 222h1v1h-1zM311 226h2v3h-2zM351 222h2v2h-2zM297 225h1v3h-1zM320 225h2v3h-2zM322 221h2v1h-2zM345 219h2v2h-2zM325 219h2v1h-2zM331 222h2v3h-2zM296 226h2v2h-2zM314 220h1v3h-1zM325 222h2v2h-2zM312 223h1v2h-1zM321 220h2v3h-2zM305 222h3v2h-3zM328 220h3v2h-3zM306 228h2v2h-2zM307 225h3v3h-3zM333 220h2v3h-2zM344 222h3v3h-3zM326 223h3v2h-3zM348 225h1v2h-1zM295 226h2v1h-2zM339 228h1v3h-1zM293 218h1v1h-1zM315 222h2v1h-2zM346 225h2v3h-2zM314 222h1v3h-1zM347 222h2v2h-2zM321 226h2v2h-2zM306 219h3v1h-3zM305 225h2v1h-2zM312 228h3v2h-3zM322 219h1v1h-1zM294 217h2v3h-2zM311 222h2v3h-2zM335 219h3v2h-3zM293 226h2v1h-2zM322 219h2v2h-2zM292 221h3v2h-3zM338 222h3v2h-3zM299 224h2v3h-2zM311 223h2v3h-2zM305 221h3v2h-3zM322 218h2v3h-2zM293 220h3v3h-3zM323 221h1v3h-1zM321 220h2v3h-2zM348 222h2v2h-2zM326 227h3v2h-3zM342 225h2v2h-2zM336 224h1v3h-1zM296 219h2v3h-2zM322 226h2v2h-2zM305 226h2v3h-2z"/>
<path fill="#fff" d="M305 226h3v3h-3zM305 228h3v2h-3zM310 228h2v2h-2zM300 223h2v3h-2zM306 224h2v2h-2zM303 227h2v3h-2zM305 225h2v3h-2zM306 229h2v3h-2zM304 225h3v3h-3zM302 223h2v3h-2zM304 221h3v3h-3zM305 228h2v2h-2zM308 223h2v2h-2zM300 223h2v2h-2z"/>
<path fill="none" stroke="#f5cd00" d="M213 145.5h5M215.5 143v5"/>
<path fill="none" stroke="#fadc00" d="M233 143.5h5M235.5 141v5M296 128.5h5M298.5 126v5M313 127.5h5M315.5 125v5"/>
<path fill="none" stroke="#f0c300" d="M239 148.5h5M241.5 146v5"/>
<path fill="none" stroke="#f0b400" d="M266 147.5h5M268.5 145v5M292 151.5h5M294.5 149v5M295 152.5h5M297.5 150v5M357 154.5h5M359.5 152v5"/>
<path fill="none" stroke="#f0be00" d="M277 137.5h5M279.5 135v5M300 135.5h5M302.5 133v5M350 141.5h5M352.5 139v5M354 141.5h5M356.5 139v5M391 147.5h5M393.5 145v5"/>
<path fill="none" stroke="#fad200" d="M285 143.5h5M287.5 141v5M337 135.5h5M339.5 133v5"/>
<path fill="none" stroke="#fad700" d="M302 133.5h5M304.5 131v5M350 139.5h5M352.5 137v5M347 146.5h5M349.5 144v5M370 145.5h5M372.5 143v5M301 152.5h5M303.5 150v5"/>
<path fill="none" stroke="#e18c00" d="M310 139.5h5M312.5 137v5"/>
<path fill="none" stroke="#eba000" d="M332 141.5h5M334.5 139v5M256 155.5h5M258.5 153v5M392 155.5h5M394.5 153v5"/>
<path fill="none" stroke="#e68c00" d="M212 167.5h5M214.5 165v5M368 160.5h5M370.5 158v5M362 167.5h5M364.5 165v5M395 168.5h5M397.5 166v5"/>
<path fill="none" stroke="#f0af00" d="M239 165.5h5M241.5 163v5"/>
<path fill="none" stroke="#e18200" d="M274 161.5h5M276.5 159v5M289 154.5h5M291.5 152v5M354 157.5h5M356.5 155v5M365 170.5h5M367.5 168v5"/>
<path fill="none" stroke="#d76400" d="M234 180.5h5M236.5 178v5M246 180.5h5M248.5 178v5"/>
<path fill="none" stroke="#d25a00" d="M236 188.5h5M238.5 186v5M241 188.5h5M243.5 186v5"/>
<path fill="none" stroke="#cd5000" d="M254 196.5h5M256.5 194v5"/>
<path fill="none" stroke="#be320a" d="M261 204.5h5M263.5 202v5M263 205.5h5M265.5 203v5"/>
<path fill="none" stroke="#960ad2" d="M259 217.5h5M261.5 215v5"/>
<path fill="none" stroke="#8c05e1" d="M226 223.5h5M228.5 221v5M233 227.5h5M235.5 225v5M383 223.5h5M385.5 221v5M388 222.5h5M390.5 220v5"/>
<path fill="none" stroke="#8705e4" d="M263 229.5h5M265.5 227v5"/>
<path fill="none" stroke="#aa1e3c" d="M370 216.5h5M372.5 214v5"/>
<path fill="none" stroke="#9b1496" d="M397 225.5h5M399.5 223v5"/>
<path fill="none" stroke="#8205e6" d="M383 234.5h5M385.5 232v5"/>
<path fill="none" stroke="#1e0014" d="M222 276.5h5M224.5 274v5"/>
<path fill="none" stroke="#46005a" d="M238 267.5h5M240.5 265v5M271 260.5h5M273.5 258v5"/>
<path fill="none" stroke="#3c0050" d="M277 270.5h5M279.5 268v5"/>
<path fill="none" stroke="#280028" d="M395 269.5h5M397.5 267v5M328 272.5h5M330.5 270v5M335 271.5h5M337.5 269v5M341 267.5h5M343.5 265v5M356 271.5h5M358.5 269v5M360 272.5h5M362.5 270v5M296 263.5h5M298.5 261v5M310 267.5h5M312.5 265v5"/>
<path fill="none" stroke="#32003c" d="M277 252.5h5M279.5 250v5M296 248.5h5M298.5 246v5"/>
<path fill="none" stroke="#460064" d="M297 251.5h5M299.5 249v5"/>
<path fill="none" stroke="#6e00c8" d="M306 251.5h5M308.5 249v5"/>
<path fill="none" stroke="#6400be" d="M312 253.5h5M314.5 251v5M346 250.5h5M348.5 248v5M349 253.5h5M351.5 251v5"/>
<path fill="none" stroke="#6400c8" d="M327 252.5h5M329.5 250v5"/>
<path fill="none" stroke="#5a00aa" d="M334 254.5h5M336.5 252v5M338 254.5h5M340.5 252v5"/>
<path fill="none" stroke="#6801dd" d="M286 251.5h5M288.5 249v5M290 253.5h5M292.5 251v5M320 250.5h5M322.5 248v5M343 249.5h5M345.5 247v5M358 252.5h5M360.5 250v5M362 251.5h5M364.5 249v5"/>
<path fill="none" stroke="#000" shape-rendering="crispEdges" d="M82.5 136V342M82 273.5h5M82 250.5h5M82 228.5h5M82 205.5h5M82 182.5h5M82 159.5h5M82 136.5h5M82.8 342.2L324.2 295.8L558.8 344.8L317.2 391.2ZM558.8 344.8L552.9 343.5M324.2 295.8L330.1 297.0M82.8 342.2L85.8 341.7M528.6 350.6L522.7 349.3M294.1 301.6L299.9 302.8M112.1 348.4L115.1 347.8M498.4 356.4L492.5 355.1M263.9 307.4L269.7 308.6M141.4 354.5L144.4 353.9M468.2 362.2L462.3 361.0M233.7 313.2L239.6 314.4M170.7 360.6L173.7 360.0M438.0 368.0L432.1 366.8M203.5 319.0L209.4 320.2M200.0 366.8L203.0 366.2M407.8 373.8L401.9 372.6M173.3 324.8L179.2 326.0M229.3 372.9L232.3 372.3M377.6 379.6L371.8 378.4M143.1 330.6L149.0 331.9M258.6 379.0L261.6 378.4M347.4 385.4L341.6 384.2M112.9 336.4L118.8 337.7M287.9 385.1L291.0 384.5M317.2 391.2L311.4 390.0M82.8 342.2L88.6 343.5M317.2 391.2L320.3 390.7"/>
<rect x="559.5" y="132.5" width="23" height="141" fill="url(#cb)" stroke="#000"/>
<path fill="none" stroke="#000" d="M560 156.5h4M578 156.5h4M560 179.5h4M578 179.5h4M560 203.5h4M578 203.5h4M560 226.5h4M578 226.5h4M560 250.5h4M578 250.5h4"/>
<text x="228.20" y="42.80">Geiger-mode Point Cloud</text>
<text x="71.00" y="278.00" text-anchor="end">-5</text>
<text x="71.00" y="255.00" text-anchor="end">0</text>
<text x="71.00" y="233.00" text-anchor="end">5</text>
<text x="71.00" y="210.00" text-anchor="end">10</text>
<text x="71.00" y="187.00" text-anchor="end">15</text>
<text x="71.00" y="164.00" text-anchor="end">20</text>
<text x="71.00" y="141.00" text-anchor="end">25</text>
<text x="595.90" y="137.00">25</text>
<text x="595.90" y="161.00">20</text>
<text x="595.90" y="184.00">15</text>
<text x="595.90" y="208.00">10</text>
<text x="595.90" y="231.00">5</text>
<text x="595.90" y="255.00">0</text>
<text x="591.40" y="278.00">-5</text>
<text x="330.20" y="399.75">20</text>
<text x="360.78" y="393.60">15</text>
<text x="391.78" y="387.60">10</text>
<text x="421.06" y="381.70">5</text>
<text x="452.08" y="375.70">0</text>
<text x="477.29" y="370.30">-5</text>
<text x="507.29" y="364.70">-10</text>
<text x="538.04" y="358.75">-15</text>
<text x="568.29" y="352.75">-20</text>
<text x="60.29" y="349.80">-20</text>
<text x="90.29" y="355.40">-15</text>
<text x="119.59" y="361.60">-10</text>
<text x="153.29" y="367.75">-5</text>
<text x="188.38" y="373.00">0</text>
<text x="216.56" y="379.50">5</text>
<text x="242.53" y="385.80">10</text>
<text x="272.28" y="391.70">15</text>
<text x="300.20" y="397.80">20</text>
<text x="66.65" y="382.80">Y Location [meters]</text>
<text x="424.64" y="385.00">X Location [meters]</text>
</svg></body></html>
